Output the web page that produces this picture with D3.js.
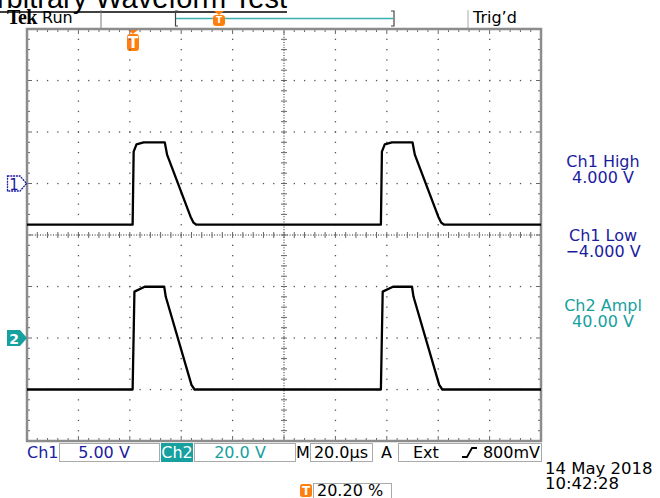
<!DOCTYPE html>
<html>
<head>
<meta charset="utf-8">
<script src="https://cdn.jsdelivr.net/npm/d3@7"></script>
<style>
  body { margin: 0; background: #fff; }
  text { font-family: "DejaVu Sans", sans-serif; }
</style>
</head>
<body>
<svg id="scope" width="660" height="498"></svg>
<script>
// waveform samples, time in µs (0 = trigger), value in volts
var ch1Time  = [-41, 0.1, 0.5, 1.6, 4.4, 12.6, 13.5, 22.6, 23.8, 24.9, 96.7, 97.1, 98.2, 101.0, 109.0, 109.9, 119.0, 120.2, 121.3, 159];
var ch1Volts = [-4, -4, 3.1, 3.8, 4.0, 4.0, 2.8, -3.2, -3.8, -4, -4, 3.1, 3.8, 4.0, 4.0, 2.8, -3.2, -3.8, -4, -4];
var ch2Time  = [-41, 0.1, 0.8, 4.8, 12.4, 13.0, 23.0, 24.2, 96.7, 97.4, 101.4, 108.8, 109.4, 119.4, 120.6, 159];
var ch2Volts = [-20, -20, 18, 19.9, 19.9, 16, -18.2, -20, -20, 18, 19.9, 19.9, 16, -18.2, -20, -20];

var measNames  = ["Ch1 High", "Ch1 Low", "Ch2 Ampl"];
var measValues = ["4.000 V", "\u22124.000 V", "40.00 V"];
var measColors = ["#1c1ca0", "#1c1ca0", "#16a0a0"];

var ch1Scale = "5.00 V", ch2Scale = "20.0 V", timeScale = "20.0\u00b5s";
var trigSource = "Ext", trigLevel = "800mV", trigPos = "20.20 %";
var dateLine = "14 May 2018", timeLine = "10:42:28";

var blue = "#1c1ca0", teal = "#16a0a0", orange = "#ff7f0e";

var svg = d3.select("#scope");

// graticule area
var gLeft = 27, gRight = 541, gTop = 29, gBottom = 441;
var gx = d3.scaleLinear().domain([0, 10]).range([gLeft, gRight]);
var gy = d3.scaleLinear().domain([0, 8]).range([gTop, gBottom]);

// data scales
var x = d3.scaleLinear().domain([-41, 159]).range([gLeft, gRight]);
var y1 = d3.scaleLinear().domain([-25, 15]).range([gBottom, gTop]);   // 5 V/div, gnd 1 div above centre
var y2 = d3.scaleLinear().domain([-40, 120]).range([gBottom, gTop]);  // 20 V/div, gnd 2 div below centre

// title (cut off at the top)
svg.append("text")
  .attr("x", 287).attr("y", 8)
  .attr("text-anchor", "end")
  .style("font-family", "'Liberation Sans', Arial, sans-serif")
  .style("font-size", "29px")
  .text("Arbitrary Waveform Test");
svg.append("line").attr("x1", 0).attr("x2", 287).attr("y1", 12).attr("y2", 12)
  .attr("stroke", "#000").attr("stroke-width", 1.6);

// top status line
svg.append("text").attr("x", 7).attr("y", 24)
  .style("font-family", "'Liberation Serif', serif").style("font-weight", "bold").style("font-size", "20px")
  .style("letter-spacing", "-0.6px")
  .text("Tek");
svg.append("text").attr("x", 42).attr("y", 23).style("font-size", "16px").text("Run");
svg.append("line").attr("x1", 101).attr("x2", 101).attr("y1", 10).attr("y2", 28).attr("stroke", "#777");
svg.append("line").attr("x1", 468).attr("x2", 468).attr("y1", 10).attr("y2", 28).attr("stroke", "#aaa");
svg.append("text").attr("x", 473).attr("y", 23).style("font-size", "16px").text("Trig\u2019d");

// trigger position bar
svg.append("path").attr("d", "M178,11H175.5V26H178").attr("fill", "none").attr("stroke", "#444").attr("stroke-width", 1.2);
svg.append("path").attr("d", "M391,11H394V26H391").attr("fill", "none").attr("stroke", "#444").attr("stroke-width", 1.2);
svg.append("line").attr("x1", 176).attr("x2", 393).attr("y1", 18.5).attr("y2", 18.5)
  .attr("stroke", "#38b0b0").attr("stroke-width", 1.6);

function tMarker(cx, ty, h) {
  var g = svg.append("g").attr("transform", "translate(" + cx + "," + ty + ")");
  g.append("path").attr("d", "M-5,0H5L0,4Z").attr("fill", orange);
  g.append("rect").attr("x", -6).attr("y", 4).attr("width", 12).attr("height", h).attr("rx", 3).attr("fill", orange);
  g.append("text").attr("x", 0).attr("y", 4 + h - 3).attr("text-anchor", "middle")
    .attr("fill", "#fff").style("font-size", (h - 2) + "px").style("font-weight", "bold").text("T");
}
tMarker(219, 11, 11);
tMarker(133, 30, 17);

// grid dots on every interior division line
var gridG = svg.append("g").attr("fill", "#555");
d3.range(1, 10).forEach(function (i) {
  if (i === 5) return;
  d3.range(0, 40.01, 1).forEach(function (k) {
    gridG.append("rect").attr("x", gx(i) - 0.6).attr("y", gy(k / 5) - 0.6).attr("width", 1.3).attr("height", 1.3);
  });
});
d3.range(1, 8).forEach(function (j) {
  if (j === 4) return;
  d3.range(0, 50.01, 1).forEach(function (k) {
    gridG.append("rect").attr("x", gx(k / 5) - 0.6).attr("y", gy(j) - 0.6).attr("width", 1.3).attr("height", 1.3);
  });
});

// centre cross: fine dotted lines with minor ticks
svg.append("line").attr("x1", gLeft).attr("x2", gRight).attr("y1", gy(4)).attr("y2", gy(4))
  .attr("stroke", "#222").attr("stroke-dasharray", "1,1.6");
svg.append("line").attr("x1", gx(5)).attr("x2", gx(5)).attr("y1", gTop).attr("y2", gBottom)
  .attr("stroke", "#222").attr("stroke-dasharray", "1,1.6");
var tickG = svg.append("g").attr("stroke", "#666").attr("stroke-width", 1);
d3.range(1, 50).forEach(function (k) {
  var xx = gx(k / 5), big = k % 5 === 0;
  tickG.append("line").attr("x1", xx).attr("x2", xx).attr("y1", gy(4) - 3).attr("y2", gy(4) + 3);
  tickG.append("line").attr("x1", xx).attr("x2", xx).attr("y1", gTop).attr("y2", gTop + (big ? 5 : 3));
  tickG.append("line").attr("x1", xx).attr("x2", xx).attr("y1", gBottom).attr("y2", gBottom - (big ? 5 : 3));
});
d3.range(1, 40).forEach(function (k) {
  var yy = gy(k / 5), big = k % 5 === 0;
  tickG.append("line").attr("y1", yy).attr("y2", yy).attr("x1", gx(5) - 3).attr("x2", gx(5) + 3);
  tickG.append("line").attr("y1", yy).attr("y2", yy).attr("x1", gLeft).attr("x2", gLeft + (big ? 5 : 3));
  tickG.append("line").attr("y1", yy).attr("y2", yy).attr("x1", gRight).attr("x2", gRight - (big ? 5 : 3));
});

// border
svg.append("rect").attr("x", gLeft).attr("y", gTop).attr("width", gRight - gLeft).attr("height", gBottom - gTop)
  .attr("fill", "none").attr("stroke", "#8c8c8c").attr("stroke-width", 2.5);

// traces
var line1 = d3.line().x(function (d, i) { return x(ch1Time[i]); }).y(function (d) { return y1(d); });
var line2 = d3.line().x(function (d, i) { return x(ch2Time[i]); }).y(function (d) { return y2(d); });
svg.append("path").datum(ch1Volts).attr("d", line1)
  .attr("fill", "none").attr("stroke", "#000").attr("stroke-width", 2.3).attr("stroke-linejoin", "round");
svg.append("path").datum(ch2Volts).attr("d", line2)
  .attr("fill", "none").attr("stroke", "#000").attr("stroke-width", 2.3).attr("stroke-linejoin", "round");

// channel ground markers
var m1 = svg.append("g").attr("transform", "translate(0," + y1(0) + ")");
m1.append("path").attr("d", "M7.5,-7.5H20L26.5,0L20,7.5H7.5Z").attr("fill", "#fff")
  .attr("stroke", blue).attr("stroke-width", 1.3).attr("stroke-dasharray", "2,0.8");
m1.append("text").attr("x", 14).attr("y", 6).attr("text-anchor", "middle").attr("fill", blue)
  .style("font-size", "15px").text("1");
var m2 = svg.append("g").attr("transform", "translate(0," + y2(0) + ")");
m2.append("path").attr("d", "M7,-8H20L27,0L20,8H7Z").attr("fill", teal);
m2.append("text").attr("x", 14).attr("y", 5.5).attr("text-anchor", "middle").attr("fill", "#fff")
  .style("font-size", "14px").style("font-weight", "bold").text("2");

// measurement readouts
var measY = [167, 241, 311];
measNames.forEach(function (n, i) {
  svg.append("text").attr("x", 603).attr("y", measY[i]).attr("text-anchor", "middle")
    .attr("fill", measColors[i]).style("font-size", "16px").text(n);
  svg.append("text").attr("x", 603).attr("y", measY[i] + 16).attr("text-anchor", "middle")
    .attr("fill", measColors[i]).style("font-size", "16px").text(measValues[i]);
});

// bottom status bar
function box(x0, x1) {
  svg.append("rect").attr("x", x0).attr("y", 443.5).attr("width", x1 - x0).attr("height", 18)
    .attr("fill", "none").attr("stroke", "#aaa").attr("stroke-width", 1);
}
svg.append("text").attr("x", 27).attr("y", 458).attr("fill", blue).style("font-size", "16px").text("Ch1");
box(59.5, 159.5);
svg.append("text").attr("x", 104).attr("y", 458).attr("text-anchor", "middle").attr("fill", blue)
  .style("font-size", "16px").text(ch1Scale);
svg.append("rect").attr("x", 161).attr("y", 443).attr("width", 32).attr("height", 19).attr("fill", teal);
svg.append("text").attr("x", 177).attr("y", 458).attr("text-anchor", "middle").attr("fill", "#fff")
  .style("font-size", "16px").text("Ch2");
box(194.5, 295.5);
svg.append("text").attr("x", 240).attr("y", 458).attr("text-anchor", "middle").attr("fill", teal)
  .style("font-size", "16px").text(ch2Scale);
svg.append("text").attr("x", 296).attr("y", 458).style("font-size", "16px").text("M");
box(310.5, 372.5);
svg.append("text").attr("x", 341).attr("y", 458).attr("text-anchor", "middle").style("font-size", "16px").text(timeScale);
svg.append("text").attr("x", 381).attr("y", 458).style("font-size", "16px").text("A");
box(398.5, 541.5);
svg.append("text").attr("x", 413).attr("y", 458).style("font-size", "16px").text(trigSource);
svg.append("path").attr("d", "M462,457H467L472,448H477").attr("fill", "none").attr("stroke", "#000").attr("stroke-width", 1.8);
svg.append("text").attr("x", 540).attr("y", 458).attr("text-anchor", "end").style("font-size", "16px").text(trigLevel);

// trigger position readout
var tb = svg.append("g").attr("transform", "translate(306,484)");
tb.append("rect").attr("x", -6).attr("y", 0).attr("width", 12).attr("height", 13).attr("rx", 2.5).attr("fill", orange);
tb.append("text").attr("x", 0).attr("y", 11).attr("text-anchor", "middle").attr("fill", "#fff")
  .style("font-size", "12px").style("font-weight", "bold").text("T");
svg.append("rect").attr("x", 313.5).attr("y", 483.5).attr("width", 78).attr("height", 16)
  .attr("fill", "none").attr("stroke", "#aaa");
svg.append("text").attr("x", 317).attr("y", 496).style("font-size", "16px").text(trigPos);

// date / time
svg.append("text").attr("x", 545).attr("y", 474).style("font-size", "16.5px").text(dateLine);
svg.append("text").attr("x", 545).attr("y", 489).style("font-size", "16.5px").text(timeLine);
</script>
</body>
</html>
